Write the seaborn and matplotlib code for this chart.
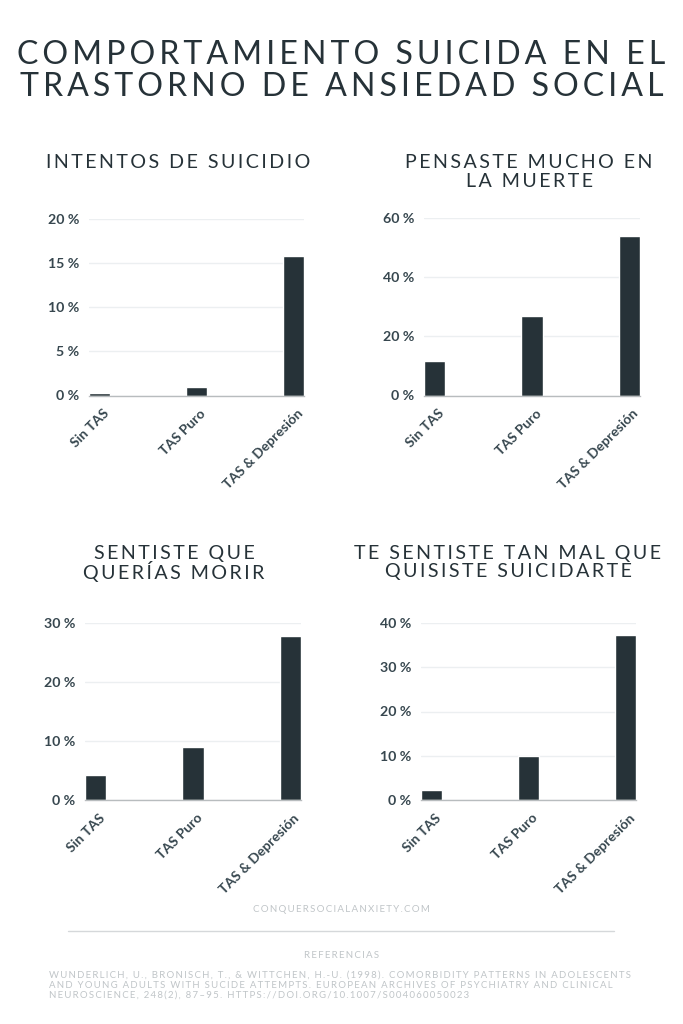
import matplotlib
matplotlib.use("Agg")
import matplotlib.pyplot as plt
from matplotlib.transforms import ScaledTranslation
import pandas as pd
import seaborn as sns

categories = ["Sin TAS", "TAS Puro", "TAS & Depresión"]
intentos = [0.3, 1.0, 15.8]
pensaste = [11.5, 27.0, 53.9]
sentiste = [4.3, 9.0, 27.8]
tan_mal = [2.2, 9.9, 37.3]

DARK = "#263238"
W, H = 683, 1024


def spaced(text, gap="\u2009"):
    # matplotlib has no letter spacing, so pad with thin spaces
    return gap.join(text)


def draw_panel(box, values, top, step, title, title_y):
    # box is left, right, top, bottom in pixels
    left, right, y_top, y_bottom = box
    ax = fig.add_axes([left / W, 1 - y_bottom / H, (right - left) / W, (y_bottom - y_top) / H])
    df = pd.DataFrame({"grupo": categories, "valor": values})
    sns.barplot(data=df, x="grupo", y="valor", color=DARK, width=0.22, saturation=1, ax=ax)
    ax.set_xlim(-0.11, 2.11)
    ax.set_ylim(0, top)
    ax.set_yticks(range(0, top + 1, step))
    ax.set_yticklabels([f"{v} %" for v in range(0, top + 1, step)],
                       fontsize=10.2, fontweight="bold", color="#37474f")
    ax.set_xlabel("")
    ax.set_ylabel("")
    ax.set_axisbelow(True)
    ax.grid(axis="y", color="#eceff1", linewidth=1)
    ax.tick_params(length=0, pad=7)
    ax.set_xticks(range(3))
    ax.set_xticklabels(categories, rotation=45, ha="right", rotation_mode="anchor",
                       fontsize=10, fontweight="bold", color="#37474f")
    # nudge the slanted labels to where the reference has them
    shift = ScaledTranslation(3 / 100, -2 / 100, fig.dpi_scale_trans)
    for label in ax.get_xticklabels():
        label.set_transform(label.get_transform() + shift)
    for side in ["top", "right", "left"]:
        ax.spines[side].set_visible(False)
    ax.spines["bottom"].set_color("#b8bcbe")
    ax.spines["bottom"].set_linewidth(1)
    cx = title_y[0] / W
    for i, line in enumerate(title):
        fig.text(cx, 1 - title_y[1 + i] / H, spaced(line), ha="center", va="center",
                 fontsize=14.1, color=DARK)


sns.set_theme(style="white")
plt.rcParams["font.family"] = ["Lato", "DejaVu Sans"]

fig = plt.figure(figsize=(6.83, 10.24), dpi=100, facecolor="white")

for line, y in zip(["COMPORTAMIENTO SUICIDA EN EL", "TRASTORNO DE ANSIEDAD SOCIAL"], [54.5, 87.5]):
    fig.text(0.5, 1 - y / H, spaced(line), ha="center", va="center", fontsize=23.1, color=DARK)

draw_panel((89, 304, 219, 395.5), intentos, 20, 5, ["INTENTOS DE SUICIDIO"], (178, 163))
draw_panel((424, 640, 218, 395.5), pensaste, 60, 20, ["PENSASTE MUCHO EN", "LA MUERTE"], (529, 163, 181.5))
draw_panel((85, 301, 623, 800), sentiste, 30, 10, ["SENTISTE QUE", "QUERÍAS MORIR"], (174, 554, 572))
draw_panel((421, 636, 623, 800), tan_mal, 40, 10, ["TE SENTISTE TAN MAL QUE", "QUISISTE SUICIDARTE"], (508, 554, 572))

fig.text(0.5, 1 - 910 / H, spaced("CONQUERSOCIALANXIETY.COM"), ha="center", va="center",
         fontsize=7.05, color="#c0c5c8")
fig.add_artist(plt.Line2D([68 / W, 614 / W], [1 - 931 / H] * 2, color="#d5d8da", linewidth=1))
fig.text(0.5, 1 - 956 / H, spaced("REFERENCIAS"), ha="center", va="center", fontsize=7, color="#c0c5c8")

refs = ["WUNDERLICH, U., BRONISCH, T., & WITTCHEN, H.-U. (1998). COMORBIDITY PATTERNS IN ADOLESCENTS",
        "AND YOUNG ADULTS WITH SUCIDE ATTEMPTS. EUROPEAN ARCHIVES OF PSYCHIATRY AND CLINICAL",
        "NEUROSCIENCE, 248(2), 87–95. HTTPS://DOI.ORG/10.1007/S004060050023"]
for line, y in zip(refs, [975.5, 985, 995]):
    fig.text(49 / W, 1 - y / H, spaced(line), ha="left", va="center", fontsize=6.95, color="#c0c5c8")

fig.savefig("out.png", dpi=100)
